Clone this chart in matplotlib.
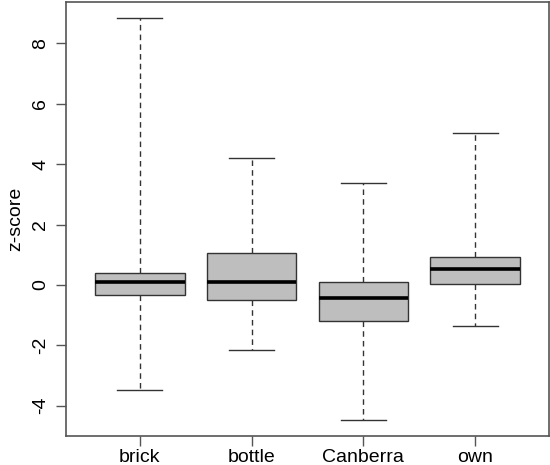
import matplotlib
matplotlib.use("Agg")
import matplotlib.pyplot as plt

plt.rcParams['font.family'] = ['Liberation Sans', 'DejaVu Sans']

groups = ["brick", "bottle", "Canberra", "own"]
whis_lo = [-3.47, -2.17, -4.47, -1.37]
q1 = [-0.33, -0.50, -1.18, 0.03]
med = [0.09, 0.09, -0.42, 0.52]
q3 = [0.40, 1.07, 0.11, 0.93]
whis_hi = [8.84, 4.20, 3.38, 5.04]

stats = []
for i, g in enumerate(groups):
    stats.append({"label": g, "whislo": whis_lo[i], "q1": q1[i], "med": med[i],
                  "q3": q3[i], "whishi": whis_hi[i], "fliers": []})

fig = plt.figure(figsize=(5.5, 4.65), dpi=100)
ax = fig.add_axes([66 / 550, 1 - 436 / 465, 483 / 550, 434 / 465])

edge = "#333333"
ax.bxp(stats, positions=range(1, 5), widths=0.8, patch_artist=True,
       showfliers=False,
       boxprops=dict(facecolor="#bebebe", edgecolor=edge, linewidth=1.0),
       medianprops=dict(color="black", linewidth=2.6, solid_capstyle="butt"),
       whiskerprops=dict(color=edge, linewidth=1.0, linestyle=(0, (4, 3))),
       capprops=dict(color=edge, linewidth=1.0),
       capwidths=0.4)

lo = min(whis_lo)
hi = max(whis_hi)
pad = (hi - lo) * 0.04
ax.set_ylim(lo - pad, hi + pad)
ax.set_xlim(0.34, 4.66)

ax.set_yticks([-4, -2, 0, 2, 4, 6, 8])
ax.set_yticklabels(["-4", "-2", "0", "2", "4", "6", "8"], rotation=90, va="center")
ax.set_xticks(range(1, 5))
ax.set_xticklabels(groups)
ax.tick_params(axis="both", labelsize=14, length=7, width=1, color="#555555")
ax.tick_params(axis="x", pad=2)
ax.tick_params(axis="y", pad=5)
ax.set_ylabel("z-score", fontsize=14, labelpad=6)

for s in ax.spines.values():
    s.set_color("#555555")
    s.set_linewidth(1.2)

fig.savefig("out.png", dpi=100)
